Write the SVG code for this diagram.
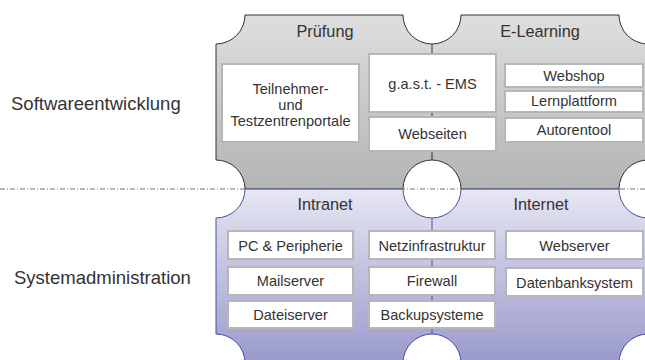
<svg xmlns="http://www.w3.org/2000/svg" width="645" height="360" viewBox="0 0 645 360">
  <defs>
    <linearGradient id="gradSoft" x1="0" y1="0" x2="0" y2="1">
      <stop offset="0" stop-color="#dedede"/>
      <stop offset="1" stop-color="#b2b4b6"/>
    </linearGradient>
    <linearGradient id="gradAdmin" x1="0" y1="0" x2="0" y2="1">
      <stop offset="0" stop-color="#e6e6f3"/>
      <stop offset="1" stop-color="#9a9acb"/>
    </linearGradient>
  </defs>
  <style>
    text { font-family: "Liberation Sans", Arial, sans-serif; fill: #333333; }
    .side { font-size: 18.5px; }
    .title { font-size: 16.3px; text-anchor: middle; }
    .lbl { font-size: 14.6px; text-anchor: middle; }
    .box { fill: #ffffff; stroke: #b6b6b6; stroke-width: 2; }
    .softPanel { fill: url(#gradSoft); stroke: #333333; stroke-width: 1; }
    .adminPanel { fill: url(#gradAdmin); stroke: #4a4aa6; stroke-width: 1; }
    .divSoft { stroke: #333333; stroke-width: 1; }
    .divAdmin { stroke: #4a4aa6; stroke-width: 1; }
    .sep { stroke: #777777; stroke-width: 1; stroke-dasharray: 5 2 1 2; fill: none; }
  </style>

  <!-- Area labels -->
  <text class="side" x="11" y="110">Softwareentwicklung</text>
  <text class="side" x="14" y="284">Systemadministration</text>

  <!-- Softwareentwicklung panel -->
  <g id="panel-software">
    <path class="softPanel" d="M245,15 L403,15 A29,29 0 0 0 461,15 L619,15 A29,29 0 0 0 648,44 L648,160 A29,29 0 0 0 619,189 L461,189 A29,29 0 0 0 403,189 L245,189 A29,29 0 0 0 216,160 L216,44 A29,29 0 0 0 245,15 Z"/>
    <line class="divSoft" x1="432" y1="44" x2="432" y2="160"/>
    <text class="title" x="325" y="37">Prüfung</text>
    <text class="title" x="540" y="37">E-Learning</text>
  </g>

  <!-- Systemadministration panel -->
  <g id="panel-admin">
    <path class="adminPanel" d="M245,189 L403,189 A29,29 0 0 0 461,189 L619,189 A29,29 0 0 0 648,218 L648,334 A29,29 0 0 0 619,363 L461,363 A29,29 0 0 0 403,363 L245,363 A29,29 0 0 0 216,334 L216,218 A29,29 0 0 0 245,189 Z"/>
    <line class="divAdmin" x1="432" y1="218" x2="432" y2="334"/>
    <text class="title" x="325" y="210">Intranet</text>
    <text class="title" x="541" y="210">Internet</text>
  </g>

  <!-- Separator between the two areas -->
  <g id="connectors">
    <line class="sep" x1="0" y1="189" x2="645" y2="189"/>
  </g>

  <!-- Prüfung -->
  <g id="node-portale">
    <rect class="box" x="222" y="64" width="137" height="78"/>
    <text class="lbl" x="290.5" y="94">Teilnehmer-</text>
    <text class="lbl" x="290.5" y="110">und</text>
    <text class="lbl" x="290.5" y="126">Testzentrenportale</text>
  </g>
  <g id="node-ems">
    <rect class="box" x="369" y="54" width="127" height="58"/>
    <text class="lbl" x="432.5" y="89">g.a.s.t. - EMS</text>
  </g>
  <g id="node-webseiten">
    <rect class="box" x="369" y="117" width="127" height="34"/>
    <text class="lbl" x="432.5" y="139">Webseiten</text>
  </g>

  <!-- E-Learning -->
  <g id="node-webshop">
    <rect class="box" x="505" y="64" width="138" height="23"/>
    <text class="lbl" x="574" y="81">Webshop</text>
  </g>
  <g id="node-lernplattform">
    <rect class="box" x="505" y="91" width="138" height="21"/>
    <text class="lbl" x="574" y="106">Lernplattform</text>
  </g>
  <g id="node-autorentool">
    <rect class="box" x="505" y="118" width="138" height="24"/>
    <text class="lbl" x="574" y="135">Autorentool</text>
  </g>

  <!-- Intranet -->
  <g id="node-pc">
    <rect class="box" x="228" y="231" width="125" height="28"/>
    <text class="lbl" x="290.5" y="251">PC &amp; Peripherie</text>
  </g>
  <g id="node-mail">
    <rect class="box" x="228" y="267" width="125" height="28"/>
    <text class="lbl" x="290.5" y="286">Mailserver</text>
  </g>
  <g id="node-datei">
    <rect class="box" x="228" y="301" width="125" height="27"/>
    <text class="lbl" x="290.5" y="320">Dateiserver</text>
  </g>
  <g id="node-netz">
    <rect class="box" x="369" y="231" width="126" height="28"/>
    <text class="lbl" x="432" y="251">Netzinfrastruktur</text>
  </g>
  <g id="node-firewall">
    <rect class="box" x="369" y="267" width="126" height="28"/>
    <text class="lbl" x="432" y="286">Firewall</text>
  </g>
  <g id="node-backup">
    <rect class="box" x="369" y="301" width="126" height="27"/>
    <text class="lbl" x="432" y="320">Backupsysteme</text>
  </g>

  <!-- Internet -->
  <g id="node-webserver">
    <rect class="box" x="506" y="231" width="137" height="28"/>
    <text class="lbl" x="574.5" y="251">Webserver</text>
  </g>
  <g id="node-datenbank">
    <rect class="box" x="506" y="268" width="137" height="28"/>
    <text class="lbl" x="574.5" y="288">Datenbanksystem</text>
  </g>
</svg>
